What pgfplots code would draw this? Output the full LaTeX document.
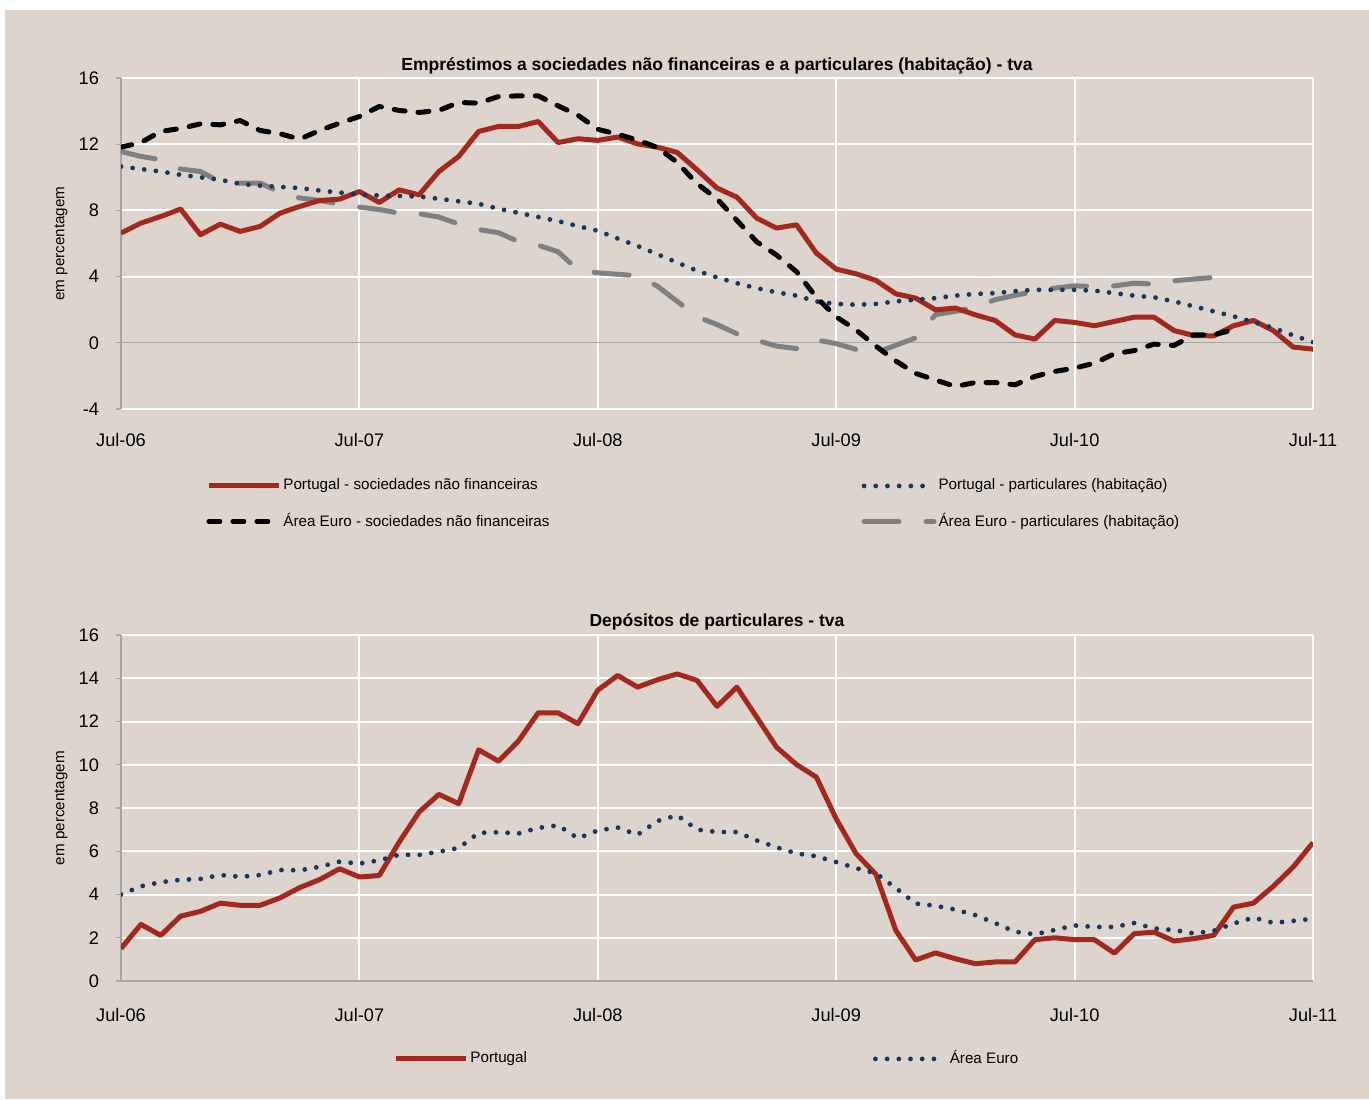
\documentclass[border=0pt]{standalone}
\usepackage{fontspec}
\setmainfont{Liberation Sans}
\usepackage{pgfplots}
\pgfplotsset{compat=1.18}
\definecolor{bgc}{RGB}{221,212,206}
\definecolor{ptred}{RGB}{163,40,30}
\definecolor{navy}{RGB}{23,55,94}
\definecolor{egray}{RGB}{128,128,128}
\definecolor{axgray}{RGB}{165,165,165}
\tikzset{
  redline/.style={color=ptred, line width=2.5pt, line join=round},
  blackdash/.style={color=black, line width=2.5pt, line cap=round, line join=round, dash pattern=on 5.5pt off 6.5pt},
  navydot/.style={color=navy, line width=2.4pt, line cap=round, dash pattern=on 0pt off 5.85pt},
  graydash/.style={color=egray, line width=2.5pt, line cap=round, line join=round, dash pattern=on 17.5pt off 13.5pt},
}
\pgfplotsset{
 mystyle/.style={
  scale only axis, width=596pt,
  xmin=0, xmax=60,
  xtick={0,12,24,36,48,60},
  xticklabels={Jul-06,Jul-07,Jul-08,Jul-09,Jul-10,Jul-11},
  axis y line*=left, axis x line*=bottom,
  x axis line style={draw=none},
  y axis line style={draw=axgray, line width=0.6pt},
  grid=major, major grid style={white, line width=1pt},
  tick align=outside,
  xtick style={draw=none},
  ytick style={draw=axgray, line width=0.6pt},
  major tick length=2.5pt,
  tick label style={font=\fontsize{9.1}{11}\selectfont},
  /pgf/number format/assume math mode=true,
  yticklabel style={anchor=east, xshift=-5pt},
  extra y ticks={0},
  extra y tick style={grid=major, major grid style={draw=axgray, line width=0.6pt}},
  ylabel={em percentagem},
  ylabel style={font=\fontsize{7.6}{9}\selectfont, at={(axis description cs:-0.0503,0.5)}, anchor=center},
  legend cell align=left,
  legend image code/.code={\draw[##1] (0pt,0pt) -- (35pt,0pt);},
  legend columns=2,
 }
}
\begin{document}
\begin{tikzpicture}
\fill[white] (0,0) rectangle (684.5pt,549.5pt);
\fill[bgc] (2.5pt,0) rectangle (684.5pt,544.5pt);
\begin{axis}[mystyle, at={(60.5pt,345pt)}, anchor=south west, height=165.5pt,
  ymin=-4, ymax=16, ytick={-4,4,8,12,16},
  xticklabel style={anchor=base, yshift=-16.5pt},
  title={Empréstimos a sociedades não financeiras e a particulares (habitação) - tva},
  title style={font=\bfseries\fontsize{8.75}{10}\selectfont, at={(axis description cs:0.5,1)}, anchor=base, yshift=-2.1pt},
  legend style={draw=none, fill=none, inner sep=0pt, font=\fontsize{7.6}{9}\selectfont,
    at={(axis description cs:0.0713,-0.198)}, anchor=north west, row sep=6.3pt,
    /tikz/every odd column/.append style={column sep=-1pt},
    /tikz/every even column/.append style={column sep=154pt}},
]
% Area Euro - particulares (habitacao)
\addplot[graydash, forget plot] coordinates {
(0,11.56) (1,11.26) (2,11.06) (3,10.5) (4,10.35) (5,9.7) (6,9.65) (7,9.65) (8,9.1) (9,8.75)
(10,8.6) (11,8.38) (12,8.2) (13,8.05) (14,7.84) (15,7.8) (16,7.6) (17,7.17) (18,6.85) (19,6.65)
(20,6.12) (21,5.9) (22,5.5) (23,4.4) (24,4.23) (25,4.14) (26,4.05) (27,3.42) (28,2.5) (29,1.58)
(30,1.1) (31,0.55) (32,0.15) (33,-0.2) (34,-0.35) (35,0.18) (36,-0.05) (37,-0.4) (38,-0.6) (39,-0.15)
(40,0.3) (41,1.7) (42,1.9) (43,2.15) (44,2.6) (45,2.87) (46,3.1) (47,3.3) (48,3.44) (49,3.4)
(50,3.44) (51,3.6) (52,3.55) (53,3.75) (54,3.85) (55,3.95) (56,4.4)};
% Portugal - sociedades nao financeiras
\addplot[redline, forget plot] coordinates {
(0,6.63) (1,7.23) (2,7.63) (3,8.08) (4,6.53) (5,7.17) (6,6.73) (7,7.03) (8,7.83) (9,8.24)
(10,8.6) (11,8.68) (12,9.14) (13,8.48) (14,9.24) (15,8.94) (16,10.35) (17,11.26) (18,12.77) (19,13.07)
(20,13.07) (21,13.37) (22,12.1) (23,12.33) (24,12.23) (25,12.43) (26,12.02) (27,11.82) (28,11.5) (29,10.45)
(30,9.35) (31,8.8) (32,7.53) (33,6.93) (34,7.13) (35,5.42) (36,4.45) (37,4.17) (38,3.77) (39,2.96)
(40,2.7) (41,1.99) (42,2.1) (43,1.69) (44,1.35) (45,0.48) (46,0.22) (47,1.35) (48,1.23) (49,1.03)
(50,1.29) (51,1.55) (52,1.55) (53,0.74) (54,0.44) (55,0.42) (56,1.03) (57,1.35) (58,0.74) (59,-0.26) (60,-0.38)};
% Portugal - particulares (habitacao)
\addplot[navydot, forget plot] coordinates {
(0,10.65) (1,10.5) (2,10.35) (3,10.15) (4,10.0) (5,9.85) (6,9.6) (7,9.5) (8,9.42) (9,9.35)
(10,9.2) (11,9.08) (12,8.95) (13,8.9) (14,8.87) (15,8.84) (16,8.7) (17,8.55) (18,8.4) (19,8.1)
(20,7.85) (21,7.6) (22,7.35) (23,7.05) (24,6.77) (25,6.3) (26,5.85) (27,5.35) (28,4.85) (29,4.35)
(30,3.95) (31,3.6) (32,3.3) (33,3.05) (34,2.85) (35,2.5) (36,2.35) (37,2.3) (38,2.35) (39,2.5)
(40,2.6) (41,2.7) (42,2.85) (43,2.95) (44,3.0) (45,3.12) (46,3.2) (47,3.2) (48,3.2) (49,3.15)
(50,3.0) (51,2.85) (52,2.75) (53,2.5) (54,2.2) (55,1.9) (56,1.6) (57,1.25) (58,0.9) (59,0.45) (60,0.04)};
% Area Euro - sociedades nao financeiras
\addplot[blackdash, forget plot] coordinates {
(0,11.82) (1,12.1) (2,12.77) (3,12.95) (4,13.23) (5,13.17) (6,13.43) (7,12.83) (8,12.63) (9,12.31)
(10,12.83) (11,13.27) (12,13.67) (13,14.28) (14,14.04) (15,13.92) (16,14.04) (17,14.52) (18,14.48) (19,14.88)
(20,14.92) (21,14.92) (22,14.32) (23,13.75) (24,12.9) (25,12.6) (26,12.25) (27,11.8) (28,10.9) (29,9.6)
(30,8.7) (31,7.4) (32,6.1) (33,5.3) (34,4.3) (35,2.75) (36,1.57) (37,0.78) (38,-0.2) (39,-1.1)
(40,-1.85) (41,-2.25) (42,-2.64) (43,-2.4) (44,-2.4) (45,-2.54) (46,-2.03) (47,-1.73) (48,-1.53) (49,-1.23)
(50,-0.66) (51,-0.47) (52,-0.08) (53,-0.16) (54,0.48) (55,0.48) (56,0.79)};
\addlegendimage{redline}
\addlegendentry{Portugal - sociedades não financeiras}
\addlegendimage{navydot}
\addlegendentry{Portugal - particulares (habitação)}
\addlegendimage{blackdash}
\addlegendentry{Área Euro - sociedades não financeiras}
\addlegendimage{graydash}
\addlegendentry{Área Euro - particulares (habitação)}
\end{axis}
\begin{axis}[mystyle, at={(60.5pt,59pt)}, anchor=south west, height=173pt,
  ymin=0, ymax=16, ytick={2,4,...,16},
  xticklabel style={anchor=base, yshift=-17.5pt},
  title={Depósitos de particulares - tva},
  title style={font=\bfseries\fontsize{8.75}{10}\selectfont, at={(axis description cs:0.5,1)}, anchor=base, yshift=-1.5pt},
  legend style={draw=none, fill=none, inner sep=0pt, font=\fontsize{7.6}{9}\selectfont,
    at={(axis description cs:0.2282,-0.189)}, anchor=north west,
    /tikz/every odd column/.append style={column sep=-1pt},
    /tikz/every even column/.append style={column sep=171pt}},
]
\addplot[redline, forget plot] coordinates {
(0,1.5) (1,2.62) (2,2.11) (3,3.0) (4,3.22) (5,3.6) (6,3.5) (7,3.5) (8,3.84) (9,4.32)
(10,4.69) (11,5.19) (12,4.81) (13,4.88) (14,6.42) (15,7.81) (16,8.63) (17,8.2) (18,10.69) (19,10.17)
(20,11.09) (21,12.4) (22,12.4) (23,11.9) (24,13.45) (25,14.13) (26,13.59) (27,13.93) (28,14.2) (29,13.9)
(30,12.7) (31,13.59) (32,12.2) (33,10.81) (34,10.01) (35,9.43) (36,7.5) (37,5.89) (38,4.93) (39,2.34)
(40,0.97) (41,1.3) (42,1.03) (43,0.8) (44,0.88) (45,0.88) (46,1.91) (47,2.0) (48,1.91) (49,1.91)
(50,1.29) (51,2.19) (52,2.26) (53,1.85) (54,1.96) (55,2.11) (56,3.42) (57,3.6) (58,4.38) (59,5.27) (60,6.4)};
\addplot[navydot, forget plot] coordinates {
(0,4.0) (1,4.38) (2,4.57) (3,4.68) (4,4.72) (5,4.9) (6,4.82) (7,4.9) (8,5.13) (9,5.12)
(10,5.28) (11,5.52) (12,5.43) (13,5.58) (14,5.84) (15,5.83) (16,5.98) (17,6.15) (18,6.85) (19,6.88)
(20,6.82) (21,7.08) (22,7.2) (23,6.6) (24,6.96) (25,7.1) (26,6.76) (27,7.4) (28,7.66) (29,7.0)
(30,6.89) (31,6.89) (32,6.5) (33,6.18) (34,5.9) (35,5.77) (36,5.5) (37,5.22) (38,4.98) (39,4.3)
(40,3.58) (41,3.48) (42,3.3) (43,3.05) (44,2.68) (45,2.28) (46,2.16) (47,2.36) (48,2.57) (49,2.5)
(50,2.5) (51,2.68) (52,2.43) (53,2.36) (54,2.2) (55,2.32) (56,2.66) (57,2.93) (58,2.69) (59,2.78) (60,2.88)};
\addlegendimage{redline}
\addlegendentry{Portugal}
\addlegendimage{navydot}
\addlegendentry{Área Euro}
\end{axis}
\pgfresetboundingbox
\useasboundingbox (0,0) rectangle (684.5pt,549.5pt);
\end{tikzpicture}
\end{document}
